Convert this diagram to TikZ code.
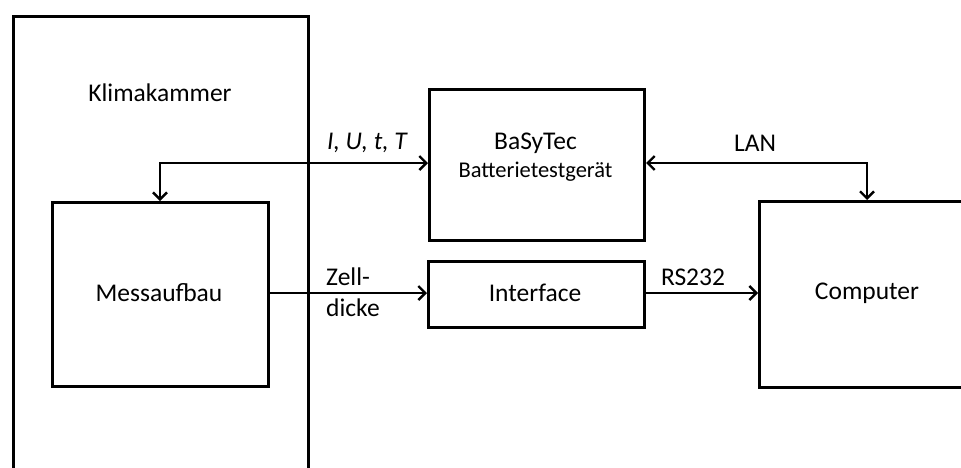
\documentclass[tikz,border=0pt]{standalone}
\usepackage{fontspec}
\setmainfont{Carlito}
\usetikzlibrary{arrows.meta}
\begin{document}
\begin{tikzpicture}[x=1pt,y=-1pt,
  box/.style={draw,line width=3pt,inner sep=0pt,anchor=north west},
  lbl/.style={font=\fontsize{25.5}{30}\selectfont,inner sep=0pt},
  conn/.style={line width=2.4pt,-{Straight Barb[length=7pt,width=14pt,line width=2.4pt]}},
  bconn/.style={line width=2.4pt,{Straight Barb[length=7pt,width=14pt,line width=2.4pt]}-{Straight Barb[length=7pt,width=14pt,line width=2.4pt]}}]
\useasboundingbox (0,0) rectangle (961,467);
\clip (0,0) rectangle (961,467);
% boxes
\node[box,minimum width=295pt,minimum height=500pt] (klima) at (12,15) {};
\node[lbl] (klimalbl) at (160,93) {Klimakammer};
\node[box,minimum width=216pt,minimum height=184pt] (mess) at (51,201) {};
\node[lbl] (messlbl) at (159,293) {Messaufbau};
\node[box,minimum width=215pt,minimum height=151pt] (bas) at (428,88) {};
\node[lbl] (baslbl) at (535.5,143) {BaSyTec};
\node[lbl,font=\fontsize{22.5}{27}\selectfont] (baslbl2) at (535.5,172) {Batterietestgerät};
\node[box,minimum width=216pt,minimum height=66pt] (intf) at (427,260) {};
\node[lbl] (intflbl) at (535,293) {Interface};
\node[box,minimum width=218pt,minimum height=186pt] (comp) at (758,200) {};
\node[lbl] (complbl) at (867,293) {Computer};
% connectors
\coordinate (c1) at (160,163);
\draw[bconn] (mess.north -| c1) -- (c1) -- (bas.west |- c1);
\coordinate (c2) at (867,163);
\draw[bconn] (bas.east |- c2) -- (c2) -- (comp.north -| c2);
\draw[conn] (mess.east |- messlbl) -- (intf.west |- messlbl);
\draw[conn] (intf.east |- intflbl) -- (comp.west |- intflbl);
% labels
\node[lbl,font=\fontsize{25.5}{30}\selectfont\itshape] (iut) at (367,143) {I, U, t, T};
\node[lbl] (lan) at (755,143) {LAN};
\node[lbl,anchor=west] (zell) at (326,277) {Zell-};
\node[lbl,anchor=west] (dicke) at (326,308) {dicke};
\node[lbl] (rs) at (693,277) {RS232};
\end{tikzpicture}
\end{document}
